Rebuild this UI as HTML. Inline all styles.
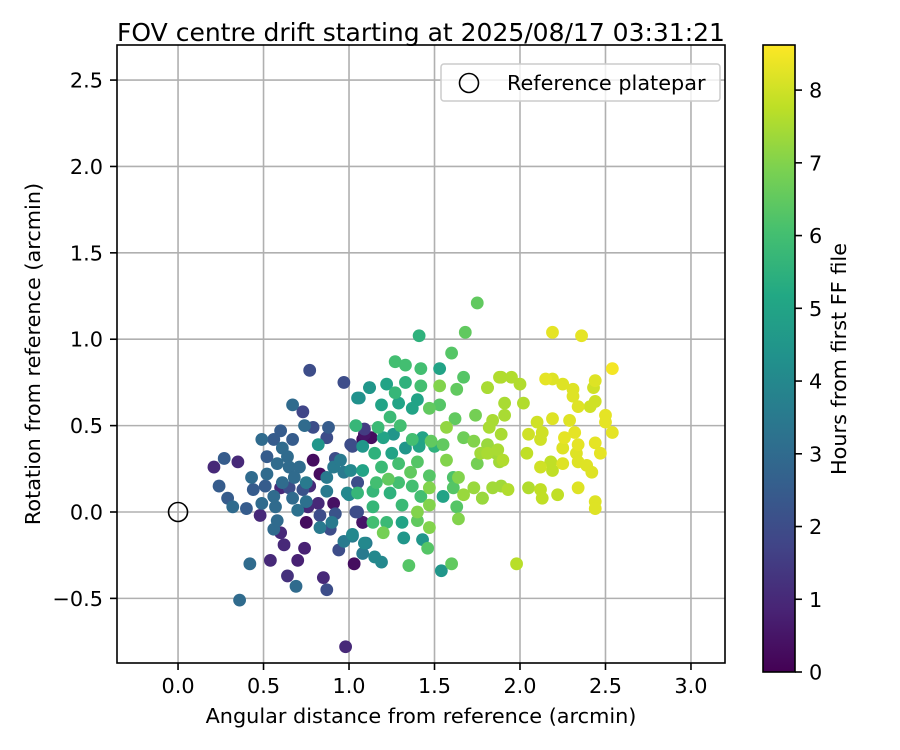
<!DOCTYPE html>
<html><head><meta charset="utf-8"><style>
body{margin:0;background:#fff;}
svg{display:block;font-family:"DejaVu Sans","Liberation Sans",sans-serif;}
</style></head><body>
<svg id="chart" width="900" height="750" viewBox="0 0 900 750">
<defs>
<linearGradient id="viridis" x1="0" y1="1" x2="0" y2="0">
<stop offset="0" stop-color="#440154"/><stop offset="0.1" stop-color="#482475"/><stop offset="0.2" stop-color="#414487"/><stop offset="0.3" stop-color="#355f8d"/><stop offset="0.4" stop-color="#2a788e"/><stop offset="0.5" stop-color="#21918c"/><stop offset="0.6" stop-color="#22a884"/><stop offset="0.7" stop-color="#44bf70"/><stop offset="0.8" stop-color="#7ad151"/><stop offset="0.9" stop-color="#bddf26"/><stop offset="1" stop-color="#fde725"/>
</linearGradient>
<clipPath id="plotclip"><rect x="117" y="45" width="608" height="618"/></clipPath>
</defs>
<rect width="900" height="750" fill="#fff"/>
<text x="421" y="41" text-anchor="middle" font-size="25">FOV centre drift starting at 2025/08/17 03:31:21</text>
<g id="grid"></g>
<g id="points" clip-path="url(#plotclip)"></g>
<circle id="refpt" r="9.5" fill="none" stroke="#000" stroke-width="1.6"/>
<rect x="117" y="45" width="608" height="618" fill="none" stroke="#000" stroke-width="1.6"/>
<g id="xticks"></g>
<g id="yticks"></g>
<text x="421" y="723" text-anchor="middle" font-size="20.8">Angular distance from reference (arcmin)</text>
<text transform="translate(40,354) rotate(-90)" text-anchor="middle" font-size="20.8">Rotation from reference (arcmin)</text>
<g>
<rect x="441" y="64" width="279" height="37" rx="3" fill="#fff" fill-opacity="0.8" stroke="#ccc" stroke-width="1.5"/>
<circle cx="469" cy="83" r="9.5" fill="none" stroke="#000" stroke-width="1.6"/>
<text x="507" y="90" font-size="20.8">Reference platepar</text>
</g>
<rect x="763" y="45" width="32" height="627" fill="url(#viridis)"/>
<rect x="763" y="45" width="32" height="627" fill="none" stroke="#000" stroke-width="1.6"/>
<g id="cticks"></g>
<text transform="translate(846,359) rotate(-90)" text-anchor="middle" font-size="20.8">Hours from first FF file</text>
</svg>
<script>
const xVals=[0.77,0.97,0.67,0.73,0.21,0.27,0.35,0.24,0.29,0.32,0.40,0.48,0.42,0.36,0.54,0.64,0.69,0.85,0.87,0.98,0.70,0.74,0.62,0.60,0.56,0.58,0.75,0.83,0.89,0.83,0.90,0.92,0.91,0.82,0.76,0.75,0.70,0.67,0.57,0.56,0.49,0.44,0.43,0.51,0.52,0.52,0.49,0.56,0.60,0.67,0.61,0.64,0.58,0.65,0.71,0.68,0.61,0.60,0.65,0.73,0.77,0.75,0.79,0.83,0.87,0.87,0.91,0.92,0.97,0.88,0.87,0.79,0.74,0.82,1.01,1.00,1.05,1.04,1.08,1.03,0.97,0.94,1.02,1.10,1.08,1.09,1.08,1.05,1.12,
1.75,1.41,1.68,1.60,1.27,1.33,1.42,1.53,1.67,1.81,1.88,1.12,1.22,1.33,1.42,1.53,1.63,1.06,1.27,1.19,1.29,1.40,1.47,1.53,1.37,1.24,1.30,1.17,1.04,1.09,1.13,1.20,1.26,1.37,1.43,1.48,1.57,1.62,1.74,1.67,1.73,1.55,1.02,1.08,1.15,1.25,1.33,1.41,1.50,1.81,1.87,0.95,1.08,1.19,1.29,1.40,1.57,1.75,1.90,1.01,1.47,1.36,1.61,1.64,1.05,1.16,1.23,1.29,1.37,1.47,1.61,1.73,0.99,1.05,1.14,1.24,1.42,1.55,1.67,1.78,1.14,1.31,1.47,1.63,1.40,1.05,1.08,1.14,1.22,1.31,1.40,1.47,1.64,1.20,1.02,1.09,1.32,1.43,1.46,1.15,1.19,1.35,1.54,1.60,
2.19,2.36,2.54,1.89,1.95,2.00,1.81,2.15,2.19,2.25,2.31,2.44,2.43,2.31,2.34,2.44,2.41,1.91,2.02,1.91,1.84,1.82,1.89,2.10,2.19,2.29,2.13,2.05,2.12,2.26,2.32,2.50,2.50,2.54,2.44,2.34,2.25,2.33,2.47,1.81,1.77,1.86,2.04,1.88,2.18,2.25,2.34,2.39,2.42,2.12,2.19,1.84,1.89,1.93,2.05,2.12,2.13,2.22,2.34,2.44,2.44,1.78,1.98];
const yVals=[0.82,0.75,0.62,0.58,0.26,0.31,0.29,0.15,0.08,0.03,0.02,-0.02,-0.30,-0.51,-0.28,-0.37,-0.43,-0.38,-0.45,-0.78,-0.28,-0.21,-0.19,-0.12,-0.10,-0.05,-0.06,-0.02,-0.10,-0.09,-0.06,-0.01,0.05,0.05,0.03,0.06,0.01,0.08,0.03,0.09,0.05,0.13,0.20,0.15,0.22,0.32,0.42,0.42,0.47,0.42,0.37,0.32,0.28,0.26,0.26,0.20,0.17,0.14,0.14,0.13,0.15,0.17,0.30,0.22,0.20,0.12,0.26,0.31,0.23,0.49,0.43,0.49,0.50,0.39,0.39,0.10,0.17,0.00,-0.06,-0.30,-0.17,-0.22,-0.14,-0.18,-0.24,0.45,0.42,0.66,0.72,
1.21,1.02,1.04,0.92,0.87,0.85,0.83,0.83,0.78,0.72,0.78,0.72,0.74,0.75,0.73,0.73,0.71,0.66,0.69,0.62,0.63,0.65,0.60,0.62,0.60,0.55,0.50,0.49,0.50,0.48,0.43,0.43,0.45,0.42,0.43,0.41,0.49,0.54,0.56,0.43,0.41,0.39,0.38,0.38,0.34,0.34,0.37,0.38,0.38,0.34,0.36,0.30,0.24,0.26,0.28,0.29,0.30,0.28,0.30,0.24,0.21,0.23,0.20,0.20,0.17,0.17,0.19,0.17,0.15,0.14,0.14,0.14,0.11,0.11,0.12,0.11,0.09,0.09,0.10,0.08,0.03,0.04,0.04,0.03,0.00,0.00,-0.06,-0.06,-0.06,-0.06,-0.05,-0.09,-0.04,-0.12,-0.13,-0.18,-0.15,-0.16,-0.21,-0.26,-0.29,-0.31,-0.34,-0.30,
1.04,1.02,0.83,0.78,0.78,0.74,0.72,0.77,0.77,0.74,0.71,0.76,0.72,0.67,0.61,0.64,0.61,0.63,0.63,0.56,0.53,0.49,0.45,0.52,0.54,0.53,0.46,0.45,0.42,0.43,0.46,0.56,0.52,0.46,0.40,0.39,0.37,0.34,0.34,0.39,0.34,0.34,0.34,0.29,0.29,0.28,0.29,0.27,0.23,0.26,0.24,0.14,0.15,0.13,0.14,0.13,0.08,0.10,0.14,0.06,0.02,0.08,-0.30];
const hourVals=[2,2,3,1.8,1,2.5,1,2.5,2.5,3,2.5,1,3,3,1,1.2,3,1,2,1,0.8,0.8,1,1,3,3,0.3,2,2,3.5,3.5,2.2,0.4,1,1,3.2,3.2,3,3,3,3,2.5,3,2.5,3,2.5,3,2.5,2.5,2.5,3,3,3,3,3,3,3,1,2,2.2,1,3.5,0.3,0.3,3.5,3.5,3.5,2,3.5,2.5,2,2,3,4.5,2,4,2,2,0.5,0.3,3.5,2,3.5,3.5,3.5,0.5,0.3,4.3,4.5,
6.5,5.5,6.5,6.3,6,6,6,5,6.3,7.5,7.6,4.5,5,5.5,6,7,6.5,4.3,5.7,5,5,5,6.5,6.3,5,5.8,6,5.8,5.7,1.5,0.3,5,4.5,6,5,6.5,7.2,6.5,6.8,6.7,7,6.5,2,4.5,5.5,5,4.5,5,5.5,7.5,7.5,3.5,5,5.8,6,6.3,7,6.8,7.6,4,6.3,6.5,6.2,7,2,6,6.5,6,6,7,6.3,7.3,4,5.7,5.7,5.5,6,5,7.3,7.3,5.7,5.8,7,6.3,7,2,0,6,5.8,5,6.5,7,7,6.8,4,4,4.5,4.5,6.3,4,4,6.3,4.5,6.5,
8.3,8.3,8.5,7.6,7.6,7.6,7.5,8.3,8.2,8.2,8.2,8.2,8,8.2,8.2,8,8,7.5,7.6,7.5,7.5,7.5,7.5,8,8.2,8.2,8,8,8,8.3,8.3,8.3,8.3,8.3,8.3,8.3,8.2,8.2,8.3,7.3,7.4,7.4,7.8,7.4,7.8,8.2,8.2,8.2,8.2,8,7.8,7.4,7.4,7.6,7.6,7.8,7.8,7.8,8.2,8.2,8.2,7.3,7.7];
const xTicks=[0.0,0.5,1.0,1.5,2.0,2.5,3.0];
const yTicks=[-0.5,0.0,0.5,1.0,1.5,2.0,2.5];
const cTicks=[0,1,2,3,4,5,6,7,8];

const X0=117,X1=725,Y0=45,Y1=663;
const xMin=-0.357,xMax=3.199,yMin=-0.874,yMax=2.703,cMin=0,cMax=8.62;
const xS=v=>X0+(v-xMin)/(xMax-xMin)*(X1-X0);
const yS=v=>Y1-(v-yMin)/(yMax-yMin)*(Y1-Y0);
const cS=v=>672-(v-cMin)/(cMax-cMin)*627;
const NS='http://www.w3.org/2000/svg';
const stops=["#440154","#482475","#414487","#355f8d","#2a788e","#21918c","#22a884","#44bf70","#7ad151","#bddf26","#fde725"];
function hex(h){return [1,3,5].map(i=>parseInt(h.substr(i,2),16));}
function viridis(t){t=Math.max(0,Math.min(1,t));const f=t*10,i=Math.min(9,Math.floor(f)),r=f-i;const a=hex(stops[i]),b=hex(stops[i+1]);return 'rgb('+a.map((c,k)=>Math.round(c+(b[k]-c)*r)).join(',')+')';}
function mk(tag,attrs,parent){const e=document.createElementNS(NS,tag);for(const k in attrs)e.setAttribute(k,attrs[k]);parent.appendChild(e);return e;}

const grid=document.getElementById('grid'),xt=document.getElementById('xticks'),yt=document.getElementById('yticks'),ct=document.getElementById('cticks');
xTicks.forEach(v=>{const x=xS(v);
 const g=mk('line',{x1:x,x2:x,y1:Y0,y2:Y1,stroke:'#b0b0b0','stroke-width':1.6},grid);
 
 
 const t=mk('line',{x1:x,x2:x,y1:Y1,y2:Y1+7,stroke:'#000','stroke-width':1.6},xt);
 
 
 const l=mk('text',{x:x,y:Y1+30,'text-anchor':'middle','font-size':20.8},xt);l.textContent=v.toFixed(1);
 
 
});
yTicks.forEach(v=>{const y=yS(v);
 const g=mk('line',{x1:X0,x2:X1,y1:y,y2:y,stroke:'#b0b0b0','stroke-width':1.6},grid);
 
 
 const t=mk('line',{x1:X0-7,x2:X0,y1:y,y2:y,stroke:'#000','stroke-width':1.6},yt);
 
 
 const l=mk('text',{x:X0-14,y:y+7.5,'text-anchor':'end','font-size':20.8},yt);l.textContent=(v<0?'\u2212':'')+Math.abs(v).toFixed(1);
 
 
});
cTicks.forEach(v=>{const y=cS(v);
 const t=mk('line',{x1:795,x2:802,y1:y,y2:y,stroke:'#000','stroke-width':1.6},ct);
 
 
 const l=mk('text',{x:809,y:y+7.5,'font-size':20.8},ct);l.textContent=v;
 
 
});
const pts=document.getElementById('points');
const idx=xVals.map((_,i)=>i).sort((a,b)=>hourVals[a]-hourVals[b]);
idx.forEach(i=>{
 const c=mk('circle',{cx:xS(xVals[i]),cy:yS(yVals[i]),r:6.4,fill:viridis((hourVals[i]-cMin)/(cMax-cMin))},pts);
 
 
});
const rp=document.getElementById('refpt');rp.setAttribute('cx',xS(0));rp.setAttribute('cy',yS(0));
</script>
</body></html>
